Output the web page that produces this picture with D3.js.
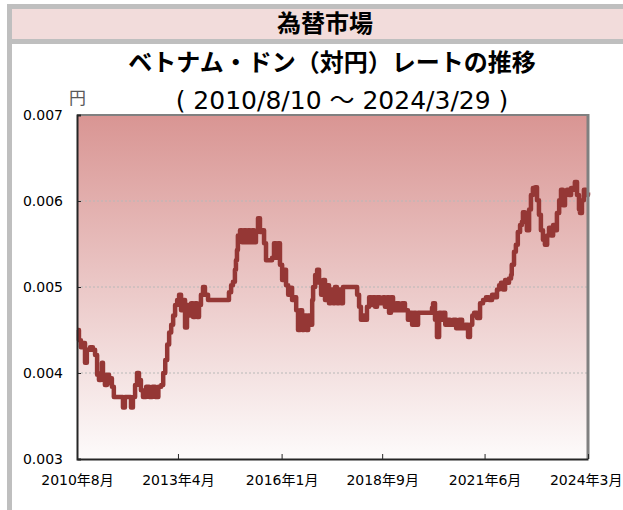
<!DOCTYPE html>
<html>
<head>
<meta charset="utf-8">
<script src="https://cdn.jsdelivr.net/npm/d3@7"></script>
<style>
  body { margin: 0; background: #fff; }
  svg { display: block; font-family: "DejaVu Sans", "Noto Sans CJK JP", sans-serif; }
</style>
</head>
<body>
<div id="container"></div>
<script>
let w = 623;
let h = 510;

// data (VND per JPY)
let dates = [
  "2010-08-10","2010-08-29","2010-09-17","2010-10-08","2010-10-27","2010-11-14","2010-12-15","2011-01-12","2011-02-02","2011-02-22",
  "2011-03-12","2011-04-01","2011-04-10","2011-04-20","2011-05-09","2011-05-29","2011-06-18","2011-07-06","2011-07-16","2011-08-04",
  "2011-09-12","2011-10-12","2011-11-01","2011-11-20","2011-12-30","2012-01-18","2012-02-06","2012-02-27","2012-03-17","2012-04-05",
  "2012-04-24","2012-05-14","2012-06-14","2012-07-14","2012-08-13","2012-09-11","2012-10-11","2012-11-08","2012-11-27","2012-12-17",
  "2013-01-05","2013-01-24","2013-02-13","2013-03-04","2013-03-23","2013-04-12","2013-05-01","2013-05-20","2013-06-09","2013-06-28",
  "2013-07-17","2013-08-05","2013-08-26","2013-09-14","2013-10-04","2013-10-23","2013-11-11","2013-11-30","2013-12-20","2014-01-08",
  "2014-02-07","2014-03-18","2014-04-26","2014-06-03","2014-07-13","2014-08-11","2014-08-30","2014-09-20","2014-10-08","2014-10-27",
  "2014-11-06","2014-11-16","2014-11-25","2014-12-16","2015-01-04","2015-01-23","2015-02-13","2015-03-04","2015-03-23","2015-04-12",
  "2015-05-01","2015-05-20","2015-06-09","2015-06-28","2015-07-17","2015-08-07","2015-08-26","2015-09-24","2015-10-24","2015-11-12",
  "2015-12-02","2015-12-21","2016-01-09","2016-01-30","2016-02-18","2016-03-08","2016-03-29","2016-04-17","2016-05-06","2016-05-27",
  "2016-06-15","2016-07-03","2016-07-24","2016-08-12","2016-08-31","2016-09-21","2016-10-10","2016-10-28","2016-11-18","2016-11-27",
  "2016-12-17","2017-01-05","2017-01-24","2017-02-13","2017-03-04","2017-03-23","2017-04-12","2017-05-01","2017-05-20","2017-06-09",
  "2017-06-28","2017-07-17","2017-08-07","2017-08-26","2017-09-14","2017-10-23","2017-12-02","2018-01-09","2018-01-30","2018-02-18",
  "2018-03-08","2018-03-29","2018-04-17","2018-05-06","2018-05-27","2018-06-15","2018-07-03","2018-07-24","2018-08-12","2018-09-10",
  "2018-10-10","2018-10-28","2018-11-18","2018-12-07","2018-12-26","2019-01-15","2019-02-13","2019-03-15","2019-04-12","2019-05-11",
  "2019-06-09","2019-06-28","2019-07-20","2019-08-07","2019-08-26","2019-09-16","2019-10-15","2019-11-13","2019-12-13","2020-01-11",
  "2020-01-30","2020-02-09","2020-02-28","2020-03-18","2020-04-08","2020-04-27","2020-05-16","2020-06-07","2020-06-25","2020-07-24",
  "2020-08-22","2020-09-21","2020-10-20","2020-11-18","2020-12-17","2021-01-15","2021-02-03","2021-02-25","2021-03-15","2021-04-13",
  "2021-05-12","2021-06-10","2021-07-09","2021-08-07","2021-09-06","2021-10-05","2021-10-24","2021-11-14","2021-12-02","2021-12-21",
  "2022-01-11","2022-01-30","2022-02-18","2022-03-10","2022-03-17","2022-04-08","2022-04-26","2022-05-15","2022-06-06","2022-06-24",
  "2022-07-04","2022-07-23","2022-08-11","2022-09-02","2022-09-20","2022-10-09","2022-10-31","2022-11-18","2022-12-07","2022-12-26",
  "2023-01-15","2023-02-03","2023-02-25","2023-03-15","2023-04-03","2023-04-24","2023-05-13","2023-05-31","2023-06-22","2023-07-10",
  "2023-07-29","2023-08-18","2023-09-06","2023-09-25","2023-10-16","2023-11-03","2023-11-22","2023-12-13","2024-01-01","2024-01-11",
  "2024-01-30","2024-02-18","2024-03-10","2024-03-29"
];
let rates = [
  0.00450,0.00438,0.00430,0.00435,0.00412,0.00427,0.00430,0.00427,0.00421,0.00398,
  0.00392,0.00400,0.00412,0.00398,0.00386,0.00398,0.00388,0.00394,0.00384,0.00372,
  0.00372,0.00372,0.00360,0.00372,0.00372,0.00360,0.00372,0.00386,0.00400,0.00392,
  0.00380,0.00372,0.00384,0.00372,0.00384,0.00372,0.00384,0.00386,0.00400,0.00415,
  0.00433,0.00447,0.00456,0.00467,0.00479,0.00485,0.00491,0.00473,0.00485,0.00453,
  0.00479,0.00467,0.00481,0.00465,0.00481,0.00465,0.00479,0.00491,0.00500,0.00491,
  0.00485,0.00485,0.00485,0.00485,0.00485,0.00485,0.00494,0.00502,0.00506,0.00520,
  0.00531,0.00543,0.00560,0.00566,0.00552,0.00566,0.00552,0.00566,0.00552,0.00566,
  0.00552,0.00564,0.00580,0.00564,0.00566,0.00551,0.00531,0.00531,0.00534,0.00551,
  0.00534,0.00551,0.00526,0.00508,0.00520,0.00502,0.00491,0.00499,0.00485,0.00488,
  0.00473,0.00450,0.00473,0.00450,0.00467,0.00450,0.00467,0.00456,0.00485,0.00500,
  0.00514,0.00520,0.00505,0.00491,0.00508,0.00485,0.00502,0.00481,0.00497,0.00481,
  0.00500,0.00481,0.00497,0.00481,0.00500,0.00500,0.00500,0.00500,0.00491,0.00477,
  0.00462,0.00467,0.00462,0.00477,0.00488,0.00479,0.00488,0.00477,0.00488,0.00481,
  0.00488,0.00477,0.00488,0.00470,0.00488,0.00473,0.00481,0.00473,0.00481,0.00473,
  0.00462,0.00470,0.00456,0.00470,0.00456,0.00470,0.00470,0.00470,0.00470,0.00470,
  0.00476,0.00481,0.00462,0.00442,0.00470,0.00462,0.00470,0.00456,0.00462,0.00456,
  0.00462,0.00452,0.00462,0.00452,0.00456,0.00442,0.00456,0.00467,0.00470,0.00464,
  0.00481,0.00485,0.00488,0.00485,0.00491,0.00488,0.00497,0.00502,0.00505,0.00497,
  0.00508,0.00505,0.00510,0.00514,0.00526,0.00541,0.00549,0.00564,0.00572,0.00576,
  0.00587,0.00578,0.00566,0.00590,0.00607,0.00615,0.00616,0.00601,0.00584,0.00566,
  0.00555,0.00549,0.00560,0.00569,0.00560,0.00572,0.00566,0.00586,0.00601,0.00613,
  0.00595,0.00607,0.00613,0.00607,0.00615,0.00613,0.00622,0.00607,0.00590,0.00586,
  0.00601,0.00613,0.00607,0.00610
];

let yTicks = [0.003, 0.004, 0.005, 0.006, 0.007];
let gridValues = [0.004, 0.005, 0.006];
let xTickDates = ["2010-08-10", "2013-04-20", "2016-01-25", "2018-10-01", "2021-06-25", "2024-03-29"];
let xTickLabels = ["2010年8月", "2013年4月", "2016年1月", "2018年9月", "2021年6月", "2024年3月"];

let parse = d3.timeParse("%Y-%m-%d");
let series = dates.map((d, i) => ({date: parse(d), rate: rates[i]}));

let plotLeft = 77, plotRight = 588, plotTop = 115, plotBottom = 459;

let viz = d3.select("#container").append("svg")
    .attr("width", w)
    .attr("height", h);

// frame and header
viz.append("rect").attr("x", 7).attr("y", 4).attr("width", w - 7).attr("height", 40).attr("fill", "#bfbfbf");
viz.append("rect").attr("x", 7).attr("y", 4).attr("width", 5).attr("height", h - 4).attr("fill", "#bfbfbf");
viz.append("rect").attr("x", 12).attr("y", 9).attr("width", w - 12).attr("height", 30).attr("fill", "#f2dcdb");

viz.append("text").attr("x", 325).attr("y", 32)
    .attr("text-anchor", "middle").attr("font-size", 24).attr("font-weight", "bold")
    .attr("font-family", "'Noto Sans CJK JP'").attr("fill", "#000")
    .text("為替市場");
viz.append("text").attr("x", 332).attr("y", 71)
    .attr("text-anchor", "middle").attr("font-size", 24).attr("font-weight", "bold")
    .attr("font-family", "'Noto Sans CJK JP'").attr("fill", "#000")
    .text("ベトナム・ドン（対円）レートの推移");
viz.append("text").attr("x", 342).attr("y", 109)
    .attr("text-anchor", "middle").attr("font-size", 25)
    .attr("font-family", "'DejaVu Sans', 'Noto Sans CJK JP'").attr("fill", "#000")
    .text("( 2010/8/10 ～ 2024/3/29 )");
viz.append("text").attr("x", 69).attr("y", 104)
    .attr("font-size", 17).attr("font-family", "'Noto Sans CJK JP'").attr("fill", "#595959")
    .text("円");

// scales
let xScale = d3.scaleTime()
    .domain([parse(dates[0]), parse(dates[dates.length - 1])])
    .range([plotLeft, plotRight]);
let yScale = d3.scaleLinear()
    .domain([0.003, 0.007])
    .range([plotBottom, plotTop]);

// background gradient
let defs = viz.append("defs");
let grad = defs.append("linearGradient").attr("id", "bg")
    .attr("x1", 0).attr("y1", 0).attr("x2", 0).attr("y2", 1);
grad.append("stop").attr("offset", "0%").attr("stop-color", "#d99593");
grad.append("stop").attr("offset", "100%").attr("stop-color", "#fdfbfb");

viz.append("rect")
    .attr("x", plotLeft).attr("y", plotTop)
    .attr("width", plotRight - plotLeft).attr("height", plotBottom - plotTop)
    .attr("fill", "url(#bg)");

// grid
viz.selectAll(".grid").data(gridValues).enter()
  .append("line")
    .attr("class", "grid")
    .attr("x1", plotLeft).attr("x2", plotRight)
    .attr("y1", d => yScale(d)).attr("y2", d => yScale(d))
    .attr("stroke", "#b8b8b8")
    .attr("stroke-width", 1)
    .attr("stroke-dasharray", "2,2");

// line
let lineMaker = d3.line()
    .x(d => xScale(d.date))
    .y(d => yScale(d.rate))
    .curve(d3.curveStepAfter);

viz.append("path")
    .datum(series)
    .attr("d", lineMaker)
    .attr("fill", "none")
    .attr("stroke", "#953735")
    .attr("stroke-width", 4.5)
    .attr("stroke-linejoin", "round");

// top and right border
viz.append("line").attr("x1", plotLeft).attr("x2", plotRight + 1).attr("y1", plotTop).attr("y2", plotTop)
    .attr("stroke", "#808080").attr("stroke-width", 2);
viz.append("line").attr("x1", plotRight).attr("x2", plotRight).attr("y1", plotTop - 1).attr("y2", plotBottom)
    .attr("stroke", "#808080").attr("stroke-width", 3);

// axes
let yAxis = d3.axisLeft(yScale)
    .tickValues(yTicks)
    .tickSize(-4)
    .tickPadding(14)
    .tickFormat(d3.format(".3f"));
let yG = viz.append("g").attr("transform", `translate(${plotLeft},0)`).call(yAxis);

let xAxis = d3.axisBottom(xScale)
    .tickValues(xTickDates.map(parse))
    .tickSizeInner(-5)
    .tickSizeOuter(0)
    .tickPadding(16)
    .tickFormat((d, i) => xTickLabels[i]);
let xG = viz.append("g").attr("transform", `translate(0,${plotBottom})`).call(xAxis);

[yG, xG].forEach(g => {
  g.select(".domain").attr("stroke", "#262626").attr("stroke-width", 2);
  g.selectAll(".tick line").attr("stroke", "#262626").attr("stroke-width", 1);
  g.selectAll("text").attr("font-size", 14).attr("fill", "#000")
    .attr("font-family", "'DejaVu Sans', 'Noto Sans CJK JP'");
});
// keep the last month label inside the window
xG.selectAll(".tick:last-of-type text").attr("text-anchor", "end").attr("dx", 34);
</script>
</body>
</html>
